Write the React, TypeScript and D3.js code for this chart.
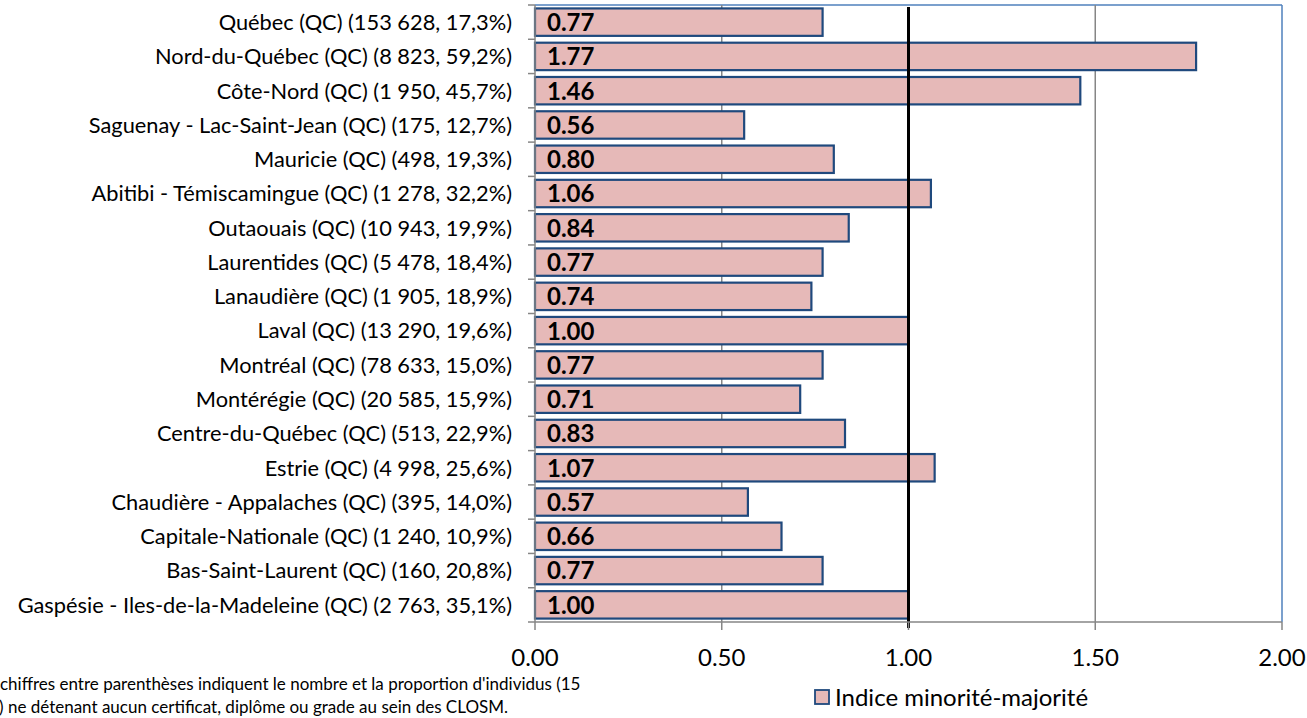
import React from "react";
import * as d3 from "d3";

const categories = [
  "Québec (QC) (153 628, 17,3%)",
  "Nord-du-Québec (QC) (8 823, 59,2%)",
  "Côte-Nord (QC) (1 950, 45,7%)",
  "Saguenay - Lac-Saint-Jean (QC) (175, 12,7%)",
  "Mauricie (QC) (498, 19,3%)",
  "Abitibi - Témiscamingue (QC) (1 278, 32,2%)",
  "Outaouais (QC) (10 943, 19,9%)",
  "Laurentides (QC) (5 478, 18,4%)",
  "Lanaudière (QC) (1 905, 18,9%)",
  "Laval (QC) (13 290, 19,6%)",
  "Montréal (QC) (78 633, 15,0%)",
  "Montérégie (QC) (20 585, 15,9%)",
  "Centre-du-Québec (QC) (513, 22,9%)",
  "Estrie (QC) (4 998, 25,6%)",
  "Chaudière - Appalaches (QC) (395, 14,0%)",
  "Capitale-Nationale (QC) (1 240, 10,9%)",
  "Bas-Saint-Laurent (QC) (160, 20,8%)",
  "Gaspésie - Iles-de-la-Madeleine (QC) (2 763, 35,1%)",
];
const values = [0.77, 1.77, 1.46, 0.56, 0.8, 1.06, 0.84, 0.77, 0.74, 1.0, 0.77, 0.71, 0.83, 1.07, 0.57, 0.66, 0.77, 1.0];
const xTicks = [0, 0.5, 1, 1.5, 2];
const referenceValue = 1;
const legendLabel = "Indice minorité-majorité";
const footnoteLines = [
  "chiffres entre parenthèses indiquent le nombre et la proportion d'individus (15",
  ") ne détenant aucun certificat, diplôme ou grade au sein des CLOSM.",
];

const W = 1307;
const H = 718;
const M = { left: 535, right: 1282, top: 5, bottom: 622 };
const FONT = "Lato, 'Open Sans', sans-serif";

export default function App() {
  const x = d3.scaleLinear().domain([0, 2]).range([M.left, M.right]);
  const y = d3
    .scaleBand<number>()
    .domain(d3.range(categories.length))
    .range([M.top, M.bottom])
    .paddingInner(0.2)
    .paddingOuter(0.1);
  const step = y.step();
  const gray = "#868686";
  return (
    <svg
      width={W}
      height={H}
      style={{ position: "absolute", left: 0, top: 0, background: "#fff" }}
      fontFamily={FONT}
    >
      <line x1={M.left} x2={M.right} y1={M.top} y2={M.top} stroke="#4F81BD" strokeWidth={1.5} />
      <line x1={M.right} x2={M.right} y1={M.top} y2={M.bottom} stroke="#4F81BD" strokeWidth={1.5} />
      {xTicks
        .filter((t) => t !== 0 && t !== 2 && t !== referenceValue)
        .map((t) => (
          <line key={t} x1={x(t)} x2={x(t)} y1={M.top} y2={M.bottom} stroke={gray} strokeWidth={1.5} />
        ))}
      {values.map((v, i) => (
        <g key={i}>
          <rect
            x={x(0)}
            y={y(i)!}
            width={x(v) - x(0)}
            height={y.bandwidth()}
            fill="#E6B9B8"
            stroke="#1F497D"
            strokeWidth={2.2}
          />
          <text
            x={x(0) + 12}
            y={y(i)! + y.bandwidth() / 2}
            dy="0.37em"
            fontSize={24}
            fontWeight="bold"
            fill="#000"
          >
            {v.toFixed(2)}
          </text>
        </g>
      ))}
      <line
        x1={x(referenceValue)}
        x2={x(referenceValue)}
        y1={M.top + 2}
        y2={M.bottom + 6}
        stroke="#000"
        strokeWidth={3}
      />
      <line x1={M.left} x2={M.left} y1={M.top} y2={M.bottom} stroke={gray} strokeWidth={1.5} />
      {d3.range(categories.length + 1).map((i) => (
        <line
          key={i}
          x1={M.left - 7}
          x2={M.left}
          y1={M.top + i * step}
          y2={M.top + i * step}
          stroke={gray}
          strokeWidth={1.5}
        />
      ))}
      {categories.map((c, i) => (
        <text
          key={c}
          x={M.left - 23}
          y={y(i)! + y.bandwidth() / 2}
          dy="0.36em"
          textAnchor="end"
          fontSize={21.8}
          fill="#000"
        >
          {c}
        </text>
      ))}
      <line x1={M.left} x2={M.right} y1={M.bottom} y2={M.bottom} stroke={gray} strokeWidth={1.5} />
      {xTicks.map((t) => (
        <g key={t}>
          <line x1={x(t)} x2={x(t)} y1={M.bottom} y2={M.bottom + 8} stroke={gray} strokeWidth={1.5} />
          <text x={x(t)} y={M.bottom + 44} textAnchor="middle" fontSize={24} fill="#000">
            {t.toFixed(2)}
          </text>
        </g>
      ))}
      {footnoteLines.map((l, i) => (
        <text key={i} x={i === 0 ? 0 : -1} y={690 + i * 23} fontSize={17} fill="#000">
          {l}
        </text>
      ))}
      <rect x={815} y={690} width={14} height={14} fill="#E6B9B8" stroke="#1F497D" strokeWidth={1.8} />
      <text x={835} y={706} fontSize={24} fill="#000">
        {legendLabel}
      </text>
    </svg>
  );
}
